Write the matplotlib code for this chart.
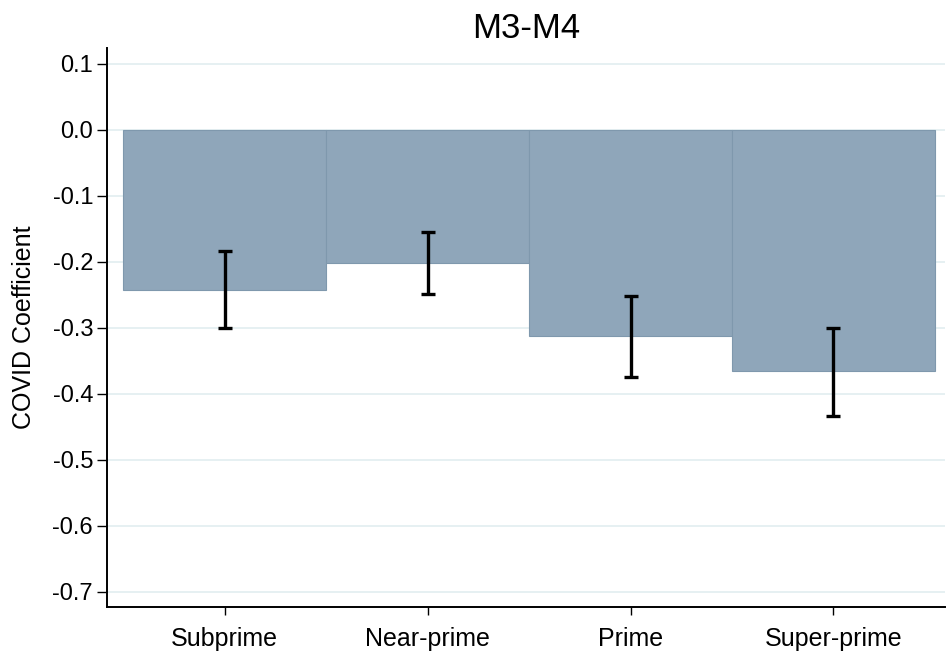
import matplotlib
matplotlib.use("Agg")
import matplotlib.pyplot as plt
import numpy as np

plt.rcParams['font.family'] = ['Liberation Sans', 'DejaVu Sans']
plt.rcParams['axes.unicode_minus'] = False

groups = ["Subprime", "Near-prime", "Prime", "Super-prime"]
coef = [-0.243, -0.202, -0.313, -0.365]
ci_low = [-0.301, -0.249, -0.375, -0.433]
ci_high = [-0.183, -0.155, -0.252, -0.301]
yticks = [-0.7, -0.6, -0.5, -0.4, -0.3, -0.2, -0.1, 0.0, 0.1]

x = np.arange(len(groups))
coef = np.array(coef)
yerr = [coef - np.array(ci_low), np.array(ci_high) - coef]

fig = plt.figure(figsize=(9.47, 6.55), dpi=100)
ax = fig.add_axes([0.113, 0.073, 0.885, 0.854])

ax.grid(axis='y', color='#e6f0f2', linewidth=1.4, zorder=0)
ax.bar(x, coef, width=1.0, color='#8fa6ba', edgecolor='#7f98ad',
       linewidth=0.8, zorder=2)
ax.errorbar(x, coef, yerr=yerr, fmt='none', ecolor='black',
            elinewidth=2.4, capsize=5, capthick=2.4, zorder=3)

ax.set_xlim(-0.58, 3.55)
ax.set_ylim(-0.723, 0.124)
ax.set_yticks(yticks)
ax.set_yticklabels([f"{v:.1f}" for v in yticks])
ax.set_xticks(x)
ax.set_xticklabels(groups)

for s in ['top', 'right']:
    ax.spines[s].set_visible(False)
for s in ['left', 'bottom']:
    ax.spines[s].set_linewidth(1.4)
ax.tick_params(axis='both', width=1)
ax.tick_params(axis='y', length=7, pad=3, labelsize=17)
ax.tick_params(axis='x', length=6, pad=8, labelsize=18)

ax.set_ylabel("COVID Coefficient", fontsize=18, labelpad=12)
ax.set_title("M3-M4", fontsize=25, pad=7)

fig.savefig("out.png", dpi=100)
